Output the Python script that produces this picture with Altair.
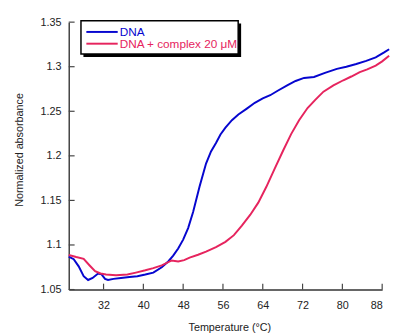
import altair as alt
import pandas as pd

# ---- data ----
series_names = ["DNA", "DNA + complex 20 μM"]
series_colors = ["#0606cf", "#e6245e"]

dna_temp = [25, 26, 27, 28, 28.9, 29.8, 30.9, 31.6, 32.3, 32.9, 34, 35.5, 37.2, 38.8,
            40.4, 42, 43.7, 45, 46, 47, 48, 49, 50, 51.3, 52.6, 53.6, 54.6, 55.5,
            56.5, 57.8, 59.1, 60.8, 62.4, 64, 65.5, 67, 69, 70.6, 72.3, 74.3, 76.5,
            78.9, 80.8, 82.8, 84.8, 86.7, 88.4, 89.4]
dna_abs = [1.087, 1.084, 1.076, 1.065, 1.0607, 1.063, 1.068, 1.067, 1.062, 1.0607,
           1.062, 1.063, 1.064, 1.065, 1.0668, 1.069, 1.075, 1.0815, 1.088, 1.096,
           1.106, 1.119, 1.137, 1.1657, 1.1914, 1.205, 1.2144, 1.224, 1.2317, 1.240,
           1.2464, 1.253, 1.2595, 1.2645, 1.268, 1.273, 1.2793, 1.284, 1.2874, 1.2885,
           1.293, 1.2976, 1.300, 1.303, 1.3065, 1.3104, 1.316, 1.3196]

cpx_temp = [25, 26.5, 28, 29.2, 30.3, 31.4, 32.5, 34.5, 36.8, 38.5, 40.4, 42, 43.7,
            45.7, 47, 48.2, 49.3, 51, 52.6, 54.6, 56.5, 58.2, 59.8, 61.5, 63.1, 64.7,
            66.4, 68.1, 69.7, 71.3, 73, 74.6, 76.2, 78.2, 80.2, 81.8, 83.5, 85,
            86.7, 88, 89.4]
cpx_abs = [1.0888, 1.0865, 1.0844, 1.077, 1.0705, 1.068, 1.0668, 1.066, 1.0668, 1.069,
           1.0716, 1.074, 1.0771, 1.0826, 1.0815, 1.083, 1.0859, 1.089, 1.0925, 1.0975,
           1.1035, 1.111, 1.1218, 1.134, 1.1475, 1.165, 1.1857, 1.206, 1.2244,
           1.240, 1.2536, 1.263, 1.272, 1.279, 1.2848, 1.289, 1.294, 1.297, 1.3013,
           1.306, 1.3123]

x_ticks = [32, 40, 48, 56, 64, 72, 80, 88]
y_ticks = [1.05, 1.1, 1.15, 1.2, 1.25, 1.3, 1.35]

# ---- build tables ----
df = pd.concat([
    pd.DataFrame({"T": dna_temp, "A": dna_abs, "s": series_names[0]}),
    pd.DataFrame({"T": cpx_temp, "A": cpx_abs, "s": series_names[1]}),
])

W, H = 320, 273
FONT = "Liberation Sans"

xs = alt.Scale(domain=[25, 88], nice=False, zero=False)
ys = alt.Scale(domain=[1.05, 1.35], nice=False, zero=False)
cs = alt.Scale(domain=series_names, range=series_colors)

lines = alt.Chart(df).mark_line(strokeWidth=2, clip=False).encode(
    x=alt.X("T:Q", scale=xs, axis=alt.Axis(
        values=x_ticks, tickSize=0, grid=False, labelPadding=10,
        title="Temperature (°C)", titleX=164, titleY=33, titleBaseline="top",
        titleFontWeight="normal")),
    y=alt.Y("A:Q", scale=ys, axis=alt.Axis(
        values=y_ticks, format="~g", tickSize=0, grid=False, labelPadding=8,
        title="Normalized absorbance", titleX=-50, titleY=130,
        titleBaseline="middle", titleFontWeight="normal")),
    color=alt.Color("s:N", scale=cs, legend=None),
)

xt = alt.Chart(pd.DataFrame({"T": x_ticks})).mark_rule(color="#444", strokeWidth=1.2).encode(
    x=alt.X("T:Q", scale=xs), y=alt.value(H), y2=alt.value(H - 6))
yt = alt.Chart(pd.DataFrame({"A": y_ticks})).mark_rule(color="#444", strokeWidth=1.2).encode(
    y=alt.Y("A:Q", scale=ys), x=alt.value(0), x2=alt.value(6))

# ---- legend box ----
shadow = alt.Chart(pd.DataFrame({"a": [0]})).mark_rect(color="#000").encode(
    x=alt.value(15), x2=alt.value(176), y=alt.value(1.5), y2=alt.value(35.5))
box = alt.Chart(pd.DataFrame({"a": [0]})).mark_rect(
    fill="white", stroke="#000", strokeWidth=1.5).encode(
    x=alt.value(12.5), x2=alt.value(173), y=alt.value(-1.5), y2=alt.value(32.5))

legend_layers = [shadow, box]
for i, name in enumerate(series_names):
    yy = 10 + 12 * i
    d = pd.DataFrame({"s": [name]})
    legend_layers.append(alt.Chart(d).mark_rule(strokeWidth=2).encode(
        x=alt.value(18), x2=alt.value(50), y=alt.value(yy),
        color=alt.Color("s:N", scale=cs, legend=None)))
    legend_layers.append(alt.Chart(d).mark_text(
        align="left", baseline="middle", fontSize=12, font=FONT).encode(
        x=alt.value(52), y=alt.value(yy), text="s:N",
        color=alt.Color("s:N", scale=cs, legend=None)))

chart = alt.layer(lines, xt, yt, *legend_layers).properties(
    width=W, height=H,
    autosize=alt.AutoSizeParams(type="none"),
    padding={"left": 62, "top": 11, "right": 8, "bottom": 44},
).configure_view(stroke=None).configure_axis(
    domainColor="#333", domainWidth=1.4, labelFont=FONT, labelFontSize=11,
    labelColor="#222", titleFont=FONT, titleFontSize=11, titleColor="#222",
)

chart.save("out.html", embed_options={"renderer": "svg", "actions": False})
